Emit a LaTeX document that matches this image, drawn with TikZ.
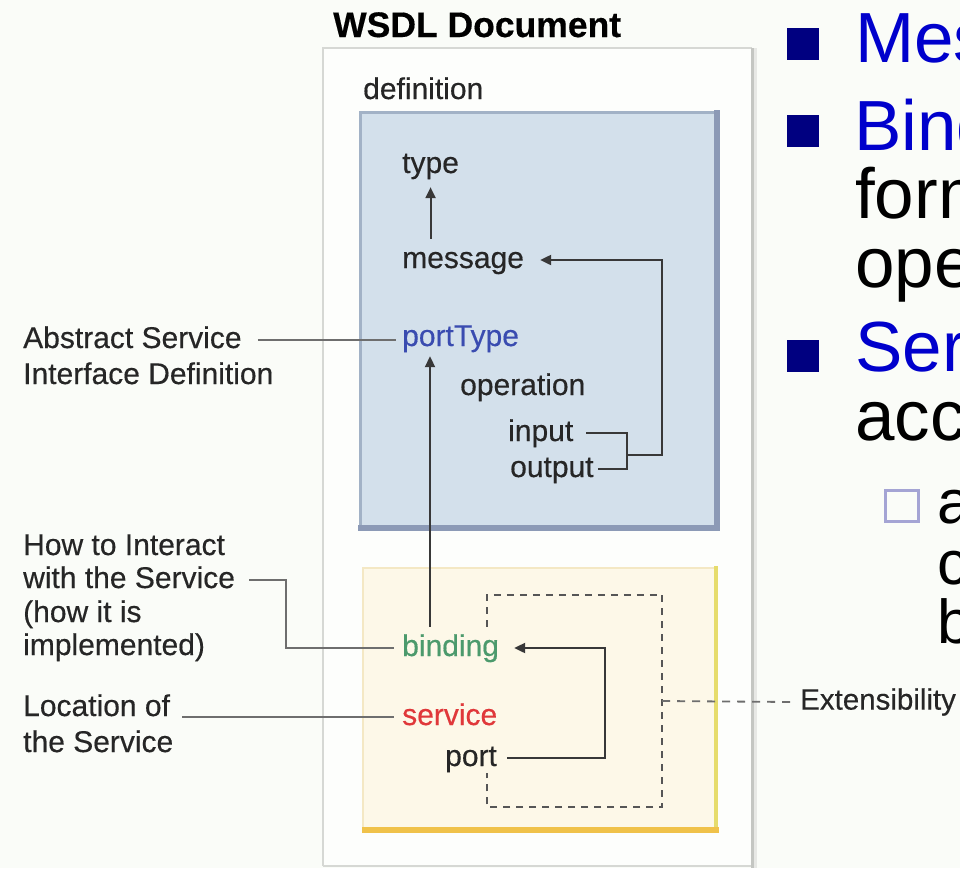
\documentclass[tikz,border=0pt]{standalone}
\usepackage{fontspec}
\setmainfont{Liberation Sans}
\newfontfamily\diagfont[FakeBold=0.4]{Liberation Sans}
\newfontfamily\slidefont{Liberation Sans}
\usetikzlibrary{arrows.meta}

\definecolor{pagebg}{HTML}{FAFCF8}
\definecolor{docfill}{HTML}{FDFEFC}
\definecolor{docedge}{HTML}{D6D8D4}
\definecolor{docshade}{HTML}{C4C6C2}
\definecolor{deffill}{HTML}{D3E0EB}
\definecolor{defedge}{HTML}{A2B2C6}
\definecolor{defshade}{HTML}{8C9AB6}
\definecolor{implfill}{HTML}{FDF8E8}
\definecolor{impledge}{HTML}{F4E8C4}
\definecolor{implright}{HTML}{E6DC6C}
\definecolor{implbottom}{HTML}{F0C24A}
\definecolor{txt}{HTML}{262626}
\definecolor{ptblue}{HTML}{3A4CB0}
\definecolor{bindgreen}{HTML}{4C9A6C}
\definecolor{servred}{HTML}{E0383A}
\definecolor{wire}{HTML}{383838}
\definecolor{leadgray}{HTML}{6E6E6E}
\definecolor{slideblue}{HTML}{0000CC}
\definecolor{bulletnavy}{HTML}{000080}
\definecolor{subbullet}{HTML}{A4A4D4}

\tikzset{
  lbl/.style={font=\diagfont\fontsize{30}{35}\selectfont, text=txt, inner sep=0pt,
              text height=22pt, text depth=6pt, anchor=base west},
  conn/.style={draw=wire, line width=2pt},
  arr/.style={conn, -{Triangle[length=11pt,width=10pt]}},
  lead/.style={draw=leadgray, line width=2pt},
  dashedge/.style={draw=wire!85, line width=1.8pt, dash pattern=on 7pt off 6pt},
  extline/.style={draw=leadgray, line width=1.8pt, dash pattern=on 8pt off 7pt},
  slidetxt/.style={font=\slidefont\fontsize{71}{80}\selectfont, inner sep=0pt,
                   anchor=base west},
  subtxt/.style={font=\slidefont\fontsize{62}{70}\selectfont, inner sep=0pt,
                 anchor=base west, text=black},
  navybox/.style={fill=bulletnavy, draw=none},
}

\begin{document}
\begin{tikzpicture}[x=1pt, y=-1pt]
  \useasboundingbox (0,0) rectangle (960,868);
  \clip (0,0) rectangle (960,868);
  \fill[pagebg] (0,0) rectangle (960,868);

  % document frame
  \fill[docfill] (323,48) rectangle (752,866);
  \draw[docedge, line width=1.5pt] (323,866) -- (323,48) -- (752,48);
  \draw[docedge, line width=1.5pt] (323,866) -- (752,866);
  \draw[docshade, line width=3pt] (752,48) -- (752,868);
  \draw[docedge!60, line width=3pt] (755.5,48) -- (755.5,868);

  \node[font=\diagfont\bfseries\fontsize{35.5}{40}\selectfont, text=black, inner sep=0pt,
        anchor=base west] (title) at (333,37) {WSDL Document};
  \node[lbl] (defn) at (363,99) {definition};

  % abstract definition panel
  \fill[deffill] (360,112) rectangle (720,528);
  \draw[defedge, line width=3pt] (360,528) -- (360,112) -- (720,112);
  \draw[defshade, line width=6pt] (717,110) -- (717,528) -- (358,528);

  % concrete implementation panel
  \fill[implfill] (362,567) rectangle (718,833);
  \draw[impledge, line width=2.5pt] (363,833) -- (363,568) -- (716,568);
  \draw[implright, line width=4pt] (716,566) -- (716,833);
  \draw[implbottom, line width=6pt] (362,830) -- (719,830);

  % element names
  \node[lbl] (type) at (402,173) {type};
  \node[lbl] (message) at (402,268) {message};
  \node[lbl, text=ptblue] (portType) at (402,346) {portType};
  \node[lbl] (operation) at (460,395) {operation};
  \node[lbl] (input) at (508,441) {input};
  \node[lbl] (output) at (510,477) {output};
  \node[lbl, text=bindgreen] (binding) at (402,656) {binding};
  \node[lbl, text=servred] (service) at (402,725) {service};
  \node[lbl] (port) at (445,766) {port};

  % extensibility region (its left edge is interrupted by the labels)
  \node[inner sep=0pt, minimum width=175pt, minimum height=212pt] (extbox) at (574.5,701) {};
  \draw[dashedge] ([yshift=-32pt]extbox.north west) -- (extbox.north west)
        -- (extbox.north east) -- (extbox.south east) -- (extbox.south west)
        -- ([yshift=34pt]extbox.south west);
  \node[font=\diagfont\fontsize{29.5}{34}\selectfont, text=txt, inner sep=0pt, anchor=west]
       (ext) at (800,702) {Extensibility};
  \draw[extline] (extbox.east) -- ([xshift=-8pt]ext.west);

  % side annotations
  \node[lbl] (abs1) at (23,348) {Abstract Service};
  \node[lbl] (abs2) at (23,384) {Interface Definition};
  \node[lbl] (how1) at (23,555) {How to Interact};
  \node[lbl] (how2) at (23,588) {with the Service};
  \node[lbl] (how3) at (23,622) {(how it is};
  \node[lbl] (how4) at (23,655) {implemented)};
  \node[lbl] (loc1) at (23,716) {Location of};
  \node[lbl] (loc2) at (23,752) {the Service};

  % references between elements
  \draw[arr, shorten <=7pt, shorten >=8pt] (type.south |- message.north) -- (type.south);
  \coordinate (ptarget) at ([xshift=28pt]portType.south west);
  \draw[arr, shorten <=7pt, shorten >=4pt] (ptarget |- binding.north) -- (ptarget);

  \coordinate (brk) at (627,455);
  \coordinate (ret) at (662,455);
  \draw[conn] ([xshift=13pt]input.east) -| (brk) |- ([xshift=4pt]output.east);
  \draw[arr] (brk) -- (ret) |- ([xshift=16pt]message.east);

  \coordinate (bret) at (605,700);
  \draw[arr] ([xshift=10pt]port.east) -| (bret) |- ([xshift=15pt]binding.east);

  % annotation leaders
  \draw[lead] ([xshift=16pt]abs1.east) -- ([xshift=-6pt]abs1.east -| portType.west);
  \coordinate (hk) at (286,600);
  \draw[lead] ([xshift=14pt]how2.east) -| (hk) |- ([xshift=-8pt]binding.west);
  \draw[lead] ([xshift=12pt]loc1.east |- service.west) -- ([xshift=-8pt]service.west);

  % bullet list
  \fill[navybox] (787,28) rectangle (819,60);
  \fill[navybox] (787,115) rectangle (819,147);
  \fill[navybox] (787,340) rectangle (819,372);
  \node[slidetxt, text=slideblue] (bl1) at (855,62) {Mes};
  \node[slidetxt, text=slideblue] (bl2) at (854,150) {Bind};
  \node[slidetxt, text=black] (bl2b) at (855,218) {form};
  \node[slidetxt, text=black] (bl2c) at (855,287) {ope};
  \node[slidetxt, text=slideblue] (bl3) at (855,371) {Ser};
  \node[slidetxt, text=black] (bl3b) at (855,440) {acc};
  \draw[subbullet, line width=3pt] (885,490) rectangle (918,521);
  \node[subtxt] (sb1) at (937,523) {a};
  \node[subtxt] (sb2) at (937,584) {c};
  \node[subtxt] (sb3) at (937,643) {b};
\end{tikzpicture}
\end{document}
